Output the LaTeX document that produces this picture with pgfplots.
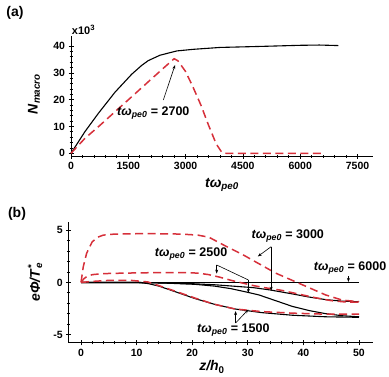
\documentclass[border=0pt]{standalone}
\usepackage{fontspec}
\setmainfont{Liberation Sans}
\usepackage{pgfplots}
\pgfplotsset{compat=1.18}
\usetikzlibrary{arrows.meta}
\definecolor{myred}{RGB}{214,48,58}
\newcommand{\tw}{\textit{tω}\textsubscript{\textit{pe0}}}
\tikzset{
 redl/.style={myred, line width=1.5pt, dash pattern=on 8pt off 4.5pt},
 blkl/.style={black, line width=1.1pt},
 ann/.style={black, line width=0.6pt, -{Stealth[length=4pt,width=3pt]}},
 annl/.style={black, line width=0.6pt},
 anntxt/.style={font=\fontsize{12.5}{14}\selectfont\bfseries, inner sep=0pt},
}
\pgfplotsset{
 myaxis/.style={scale only axis, axis x line=bottom, axis y line=left,
   axis line style={-, line width=0.9pt},
   every tick/.style={black, line width=0.8pt},
   major tick length=5pt, minor tick length=3pt,
   tick label style={font=\fontsize{10.5}{12}\selectfont\bfseries},
   /pgf/number format/assume math mode=true,
   /pgf/number format/1000 sep={},
   clip=false, anchor=south west},
}
\begin{document}
\begin{tikzpicture}[x=1pt,y=1pt]
\path[use as bounding box] (0pt,0pt) rectangle (389pt,377pt);
% ---------- panel (a)
\begin{axis}[myaxis, at={(71pt,220.5pt)}, width=301.8pt, height=120.3pt,
  xmin=0, xmax=7900, ymin=-1.2, ymax=43.7,
  xtick={0,1500,...,7500}, minor x tick num=4,
  ytick={0,10,...,40}, minor y tick num=4]
\addplot[blkl] coordinates {(0,0)(366,8.1)(716,14.9)(1152,22.8)(1589,29.5)(1850,32.8)(2024,34.6)(2330,36.6)(2770,38.2)(3200,38.8)(3900,39.5)(5000,39.9)(6000,40.3)(6500,40.4)(7000,40.2)};
\addplot[redl] coordinates {(0,0)(366,5.6)(716,9.9)(1152,15.5)(1589,21.1)(2024,26.7)(2461,32.3)(2700,35.3)(2800,34.5)(3000,30.5)(3200,24.5)(3400,18)(3600,10.5)(3800,3.5)(3950,0.3)(4050,0)(6600,0)};
\draw[ann] (axis cs:2417,19.9) -- (axis cs:2723,32.9);
\node[anntxt] at (axis cs:2155,14.9) {\tw{} = 2700};
\end{axis}
\node[font=\fontsize{11}{12}\selectfont\bfseries] at (83.5pt,347.5pt) {x10\textsuperscript{3}};
\node[font=\fontsize{14}{16}\selectfont\bfseries, rotate=90] at (34pt,283pt) {\textit{N}\textsubscript{\textit{macro}}};
\node[font=\fontsize{14}{16}\selectfont\bfseries] at (222pt,192pt) {\tw};
\node[font=\fontsize{14}{16}\selectfont\bfseries] at (15pt,364pt) {(a)};
% ---------- panel (b)
\begin{axis}[myaxis, at={(68.8pt,34.2pt)}, width=304.1pt, height=121.2pt,
  xmin=-2.2, xmax=52.5, ymin=-5.8, ymax=5.85,
  xtick={0,10,...,50}, minor x tick num=4,
  ytick={-5,0,5}, minor y tick num=4]
\addplot[blkl] coordinates {(0,0)(50,0)};
\addplot[blkl] coordinates {(0,0)(10,0)(14,-0.05)(20,-0.12)(24,-0.22)(28,-0.38)(31,-0.5)(34,-0.72)(38,-1.1)(41,-1.4)(44,-1.65)(47,-1.8)(50,-1.85)};
\addplot[blkl] coordinates {(0,0)(10,0)(12,-0.02)(16,-0.08)(20.5,-0.18)(24,-0.35)(27,-0.6)(30,-0.95)(32,-1.2)(35,-1.75)(38,-2.3)(41,-2.7)(44,-3.0)(47,-3.2)(50,-3.3)};
\addplot[blkl] coordinates {(0,0)(10,0)(12,-0.1)(14,-0.35)(17,-0.9)(20.5,-1.55)(24,-2.1)(27.7,-2.55)(32.5,-2.9)(38,-3.15)(44,-3.3)(50,-3.35)};
\addplot[redl] coordinates {(0,0)(0.4,1.5)(1,2.8)(2,3.9)(3,4.35)(4,4.55)(6,4.65)(12,4.7)(18,4.65)(21,4.55)(23,4.35)(26,3.5)(29,2.7)(32,1.8)(35,0.9)(38,0.2)(41,-0.5)(44,-1.2)(47,-1.7)(50,-1.85)};
\addplot[redl] coordinates {(0,0)(0.5,0.35)(1,0.55)(2,0.75)(4,0.85)(8,0.9)(14,0.95)(18,0.95)(21,0.9)(23,0.75)(25,0.5)(27,0.2)(29,-0.05)(31,-0.3)(33,-0.5)(36,-0.75)(39,-1.1)(42,-1.45)(45,-1.75)(48,-1.9)(50,-1.9)};
\addplot[redl] coordinates {(0,0)(2,0.1)(5,0.2)(9,0.2)(12,0.05)(14,-0.3)(17,-0.85)(20.5,-1.5)(24,-2.1)(27.7,-2.55)(32.5,-2.8)(38,-2.95)(44,-3.05)(50,-3.05)};
% annotations
\node[anntxt] at (axis cs:37.2,4.47) {\tw{} = 3000};
\draw[ann] (axis cs:34.2,3.44) -- (axis cs:31.8,2.5);
\draw[ann] (axis cs:34.2,3.44) -- (axis cs:34.2,-0.8);
\node[anntxt] at (axis cs:19.8,2.74) {\tw{} = 2500};
\draw[ann] (axis cs:24.4,1.68) -- (axis cs:24.4,0.85);
\draw[annl] (axis cs:24.4,1.68) -- (axis cs:30.1,0.24);
\draw[ann] (axis cs:30.1,0.24) -- (axis cs:30.1,-1.0);
\node[anntxt] at (axis cs:48.4,1.35) {\tw{} = 6000};
\draw[ann] (axis cs:48.1,0.6) -- (axis cs:48.1,0.05);
\node[anntxt] at (axis cs:27.4,-4.6) {\tw{} = 1500};
\draw[ann] (axis cs:27.8,-3.9) -- (axis cs:27.8,-2.75);
\draw[ann] (axis cs:27.8,-3.9) -- (axis cs:30.1,-2.6);
\end{axis}
\node[font=\fontsize{14}{16}\selectfont\bfseries, rotate=90] at (35pt,94pt) {\textit{eΦ/T}\rlap{\textsubscript{\textit{e}}}\textsuperscript{*}};
\node[font=\fontsize{14}{16}\selectfont\bfseries] at (212pt,10pt) {\textit{z/h}\textsubscript{0}};
\node[font=\fontsize{14}{16}\selectfont\bfseries] at (17pt,163pt) {(b)};
\end{tikzpicture}
\end{document}
